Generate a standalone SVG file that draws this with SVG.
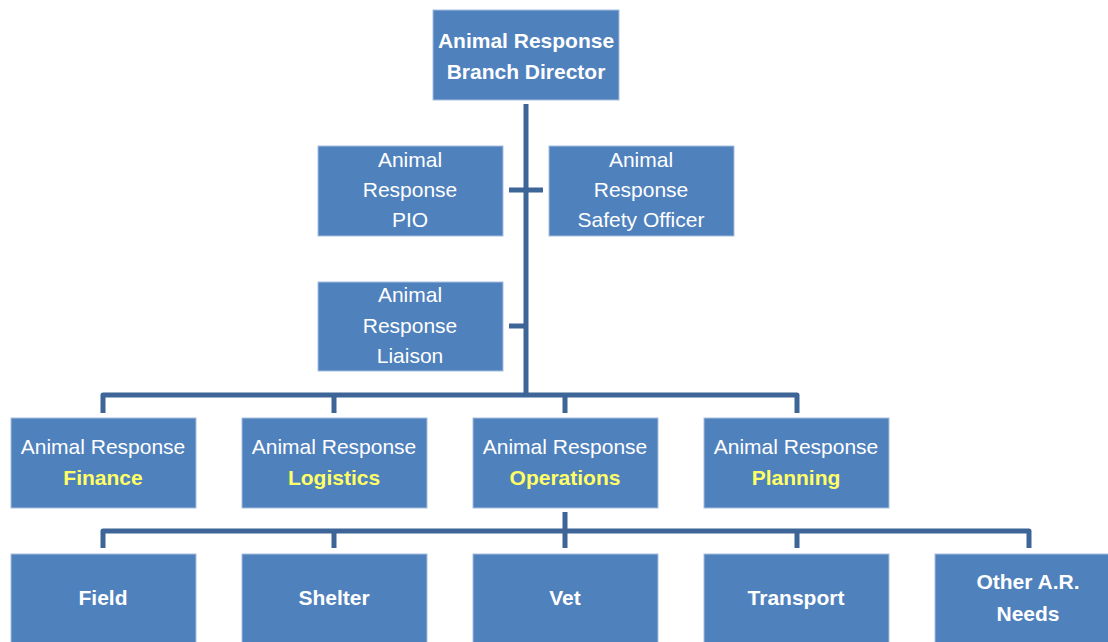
<svg xmlns="http://www.w3.org/2000/svg" width="1108" height="642" viewBox="0 0 1108 642">
<style>
.box{fill:#4F81BD;stroke:#A7BFDE;stroke-width:1}
.t{font-family:"Liberation Sans",Arial,sans-serif;font-size:21px;fill:#FFFFFF;text-anchor:middle}
.b{font-weight:bold}
.y{fill:#FFFF66;font-weight:bold}
.c{fill:none;stroke:#3E6598;stroke-width:5;stroke-linejoin:round}
</style>
<rect width="1108" height="642" fill="#FFFFFF"/>
<g id="connectors">
<path class="c" d="M526,104 V395"/>
<path class="c" d="M509,190 H543"/>
<path class="c" d="M509,326 H526"/>
<path class="c" d="M103,413 V395 H797 V413"/>
<path class="c" d="M334,395 V413 M565,395 V413"/>
<path class="c" d="M565,512 V531"/>
<path class="c" d="M103,548 V531 H1029 V548"/>
<path class="c" d="M334,531 V548 M565,531 V548 M797,531 V548"/>
</g>
<g id="director"><rect class="box" x="433" y="10" width="186" height="90"/><text class="t b" x="526" y="48">Animal Response</text><text class="t b" x="526" y="79">Branch Director</text></g>
<g id="pio"><rect class="box" x="318" y="146" width="185" height="90"/><text class="t" x="410" y="167">Animal</text><text class="t" x="410" y="197">Response</text><text class="t" x="410" y="227">PIO</text></g>
<g id="safety"><rect class="box" x="549" y="146" width="185" height="90"/><text class="t" x="641" y="167">Animal</text><text class="t" x="641" y="197">Response</text><text class="t" x="641" y="227">Safety Officer</text></g>
<g id="liaison"><rect class="box" x="318" y="282" width="185" height="89"/><text class="t" x="410" y="302">Animal</text><text class="t" x="410" y="333">Response</text><text class="t" x="410" y="363">Liaison</text></g>
<g id="finance"><rect class="box" x="11" y="418" width="185" height="90"/><text class="t" x="103" y="454">Animal Response</text><text class="t y" x="103" y="485">Finance</text></g>
<g id="logistics"><rect class="box" x="242" y="418" width="185" height="90"/><text class="t" x="334" y="454">Animal Response</text><text class="t y" x="334" y="485">Logistics</text></g>
<g id="operations"><rect class="box" x="473" y="418" width="185" height="90"/><text class="t" x="565" y="454">Animal Response</text><text class="t y" x="565" y="485">Operations</text></g>
<g id="planning"><rect class="box" x="704" y="418" width="185" height="90"/><text class="t" x="796" y="454">Animal Response</text><text class="t y" x="796" y="485">Planning</text></g>
<g id="field"><rect class="box" x="11" y="554" width="185" height="92"/><text class="t b" x="103" y="605">Field</text></g>
<g id="shelter"><rect class="box" x="242" y="554" width="185" height="92"/><text class="t b" x="334" y="605">Shelter</text></g>
<g id="vet"><rect class="box" x="473" y="554" width="185" height="92"/><text class="t b" x="565" y="605">Vet</text></g>
<g id="transport"><rect class="box" x="704" y="554" width="185" height="92"/><text class="t b" x="796" y="605">Transport</text></g>
<g id="other"><rect class="box" x="935" y="554" width="185" height="92"/><text class="t b" x="1028" y="589">Other A.R.</text><text class="t b" x="1028" y="621">Needs</text></g>
</svg>
